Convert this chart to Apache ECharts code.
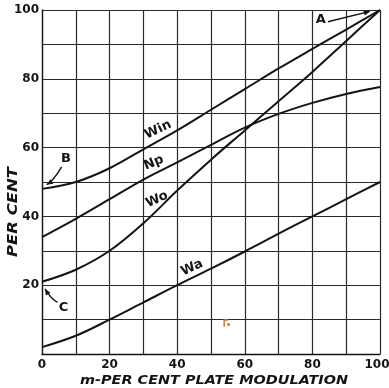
<!DOCTYPE html>
<html><head><meta charset="utf-8">
<script src="https://cdn.jsdelivr.net/npm/echarts@6/dist/echarts.min.js"></script>
<style>html,body{margin:0;padding:0;background:#fff;overflow:hidden;width:389px;height:388px}#c{position:absolute;left:0;top:0;width:389px;height:388px}</style>
</head><body><div id="c"></div>
<script>
// ---- data ----
const X    = [0, 10, 20, 30, 40, 50, 60, 70, 80, 90, 100];
const WIN  = [48, 50, 54, 59.5, 65, 71, 77, 83, 88.7, 94.3, 100];
const NP   = [34, 39.3, 45, 50.7, 55.7, 60.8, 65.8, 69.8, 73, 75.6, 77.6];
const WO   = [21, 24.5, 30, 38, 47.5, 56.5, 65, 73.5, 82, 91, 100];
const WA   = [2, 5.3, 10, 15, 20, 24.8, 29.8, 35, 40, 45, 50];
const X_TICKS = [0, 20, 40, 60, 80, 100];
const Y_TICKS = [20, 40, 60, 80, 100];
const X_TITLE = 'm-PER CENT PLATE MODULATION';
const Y_TITLE = 'PER CENT';
// curve labels: [text, x, y, angleDeg]
const CURVE_LABELS = [['Win', 34.3, 65.2, 25], ['Np', 33.1, 55.6, 22], ['Wo', 34, 44.9, 24], ['Wa', 44.4, 25.1, 25]];
// letter annotations: [text, x, y]
const LETTERS = [['A', 82.5, 97.2], ['B', 7.1, 56.9], ['C', 6.4, 13.4]];

const INK = '#141414';
const W = 389, H = 388;
const chart = echarts.init(document.getElementById('c'), null, {renderer: 'canvas', width: W, height: H});
const mk = arr => X.map((x, i) => [x, arr[i]]);
const lineSeries = arr => ({
  type: 'line', data: mk(arr), smooth: 0.35, showSymbol: false, silent: true,
  lineStyle: {color: INK, width: 2}
});
const tickFont = {color: INK, fontFamily: 'DejaVu Sans', fontSize: 12, fontWeight: 'bold'};
chart.setOption({
  animation: false,
  backgroundColor: '#fff',
  grid: {left: 42, right: 9, top: 10, bottom: 34, containLabel: false, outerBoundsMode: 'none'},
  xAxis: {
    type: 'value', min: 0, max: 100, interval: 10,
    axisLine: {lineStyle: {color: INK, width: 1.3}},
    axisTick: {show: false},
    splitLine: {lineStyle: {color: '#2a2a2a', width: 1.2}},
    axisLabel: Object.assign({margin: 5, hideOverlap: false,
      formatter: v => v === 100 ? '{e|100}' : (X_TICKS.includes(v) ? String(v) : ''),
      rich: {e: Object.assign({padding: [0, 6, 0, 0]}, tickFont)}}, tickFont)
  },
  yAxis: {
    type: 'value', min: 0, max: 100, interval: 10,
    axisLine: {lineStyle: {color: INK, width: 1.3}},
    axisTick: {show: false},
    splitLine: {lineStyle: {color: '#2a2a2a', width: 1.2}},
    axisLabel: Object.assign({margin: 3, hideOverlap: false, formatter: v => Y_TICKS.includes(v) ? String(v) : ''}, tickFont)
  },
  series: [lineSeries(WIN), lineSeries(NP), lineSeries(WO), lineSeries(WA)]
});

const P = (x, y) => chart.convertToPixel({gridIndex: 0}, [x, y]);
const ctx = document.createElement('canvas').getContext('2d');
function measure(text, font) { ctx.font = font; return ctx.measureText(text).width; }

function arrowHead(tip, from, size) {
  const dx = tip[0] - from[0], dy = tip[1] - from[1];
  const L = Math.hypot(dx, dy), ux = dx / L, uy = dy / L;
  const bx = tip[0] - ux * size, by = tip[1] - uy * size;
  const w = size * 0.45;
  return {type: 'polygon', silent: true,
    shape: {points: [tip, [bx - uy * w, by + ux * w], [bx + uy * w, by - ux * w]]},
    style: {fill: INK}};
}

const g = [];
CURVE_LABELS.forEach(([t, x, y, a]) => {
  const p = P(x, y);
  g.push({type: 'text', x: p[0], y: p[1], rotation: a * Math.PI / 180, silent: true,
    style: {text: t, fill: INK, font: 'bold 13px "DejaVu Sans"', textAlign: 'center', textVerticalAlign: 'middle'}});
});
LETTERS.forEach(([t, x, y]) => {
  const p = P(x, y);
  g.push({type: 'text', x: p[0], y: p[1], silent: true,
    style: {text: t, fill: INK, font: 'bold 13px "DejaVu Sans"', textAlign: 'center', textVerticalAlign: 'middle'}});
});
// arrow A
{
  const t = P(84.6, 96.6), h = P(97, 99.6);
  g.push({type: 'line', silent: true, shape: {x1: t[0], y1: t[1], x2: h[0], y2: h[1]}, style: {stroke: INK, lineWidth: 1.5}});
  g.push(arrowHead(h, t, 6));
}
// arrow B (curved)
{
  const t = P(5.8, 54.4), c = P(3.5, 50.5), h = P(1.4, 49.2);
  g.push({type: 'bezierCurve', silent: true, shape: {x1: t[0], y1: t[1], cpx1: c[0], cpy1: c[1], x2: h[0], y2: h[1]},
    style: {stroke: INK, lineWidth: 1.4, fill: null}});
  g.push(arrowHead(h, c, 6));
}
// arrow C
{
  const t = P(4.6, 15.0), c = P(2.8, 15.8), h = P(0.9, 18.9);
  g.push({type: 'bezierCurve', silent: true, shape: {x1: t[0], y1: t[1], cpx1: c[0], cpy1: c[1], x2: h[0], y2: h[1]},
    style: {stroke: INK, lineWidth: 1.4, fill: null}});
  g.push(arrowHead(h, c, 6));
}
// axis titles, stretched to the reference lettering width
{
  const f = 'italic bold 13px "DejaVu Sans"';
  const w = measure(X_TITLE, f);
  g.push({type: 'text', x: 214, y: 381, scaleX: 268 / w, silent: true,
    style: {text: X_TITLE, fill: INK, font: f, textAlign: 'center', textVerticalAlign: 'middle'}});
  const f2 = 'italic bold 14px "DejaVu Sans"';
  const w2 = measure(Y_TITLE, f2);
  g.push({type: 'text', x: 13.5, y: 212, rotation: Math.PI / 2, scaleX: 90 / w2, silent: true,
    style: {text: Y_TITLE, fill: INK, font: f2, textAlign: 'center', textVerticalAlign: 'middle'}});
}
// small orange scan mark
{
  const a = P(53.9, 9.9), b = P(53.9, 7.9), c = P(55.2, 8.6);
  g.push({type: 'polyline', silent: true, shape: {points: [b, a, [a[0] + 4, a[1]]]}, style: {stroke: '#d07a30', lineWidth: 1.5, fill: null}});
  g.push({type: 'circle', silent: true, shape: {cx: c[0], cy: c[1], r: 1.5}, style: {fill: '#d07a30'}});
}
chart.setOption({graphic: g});
</script></body></html>
